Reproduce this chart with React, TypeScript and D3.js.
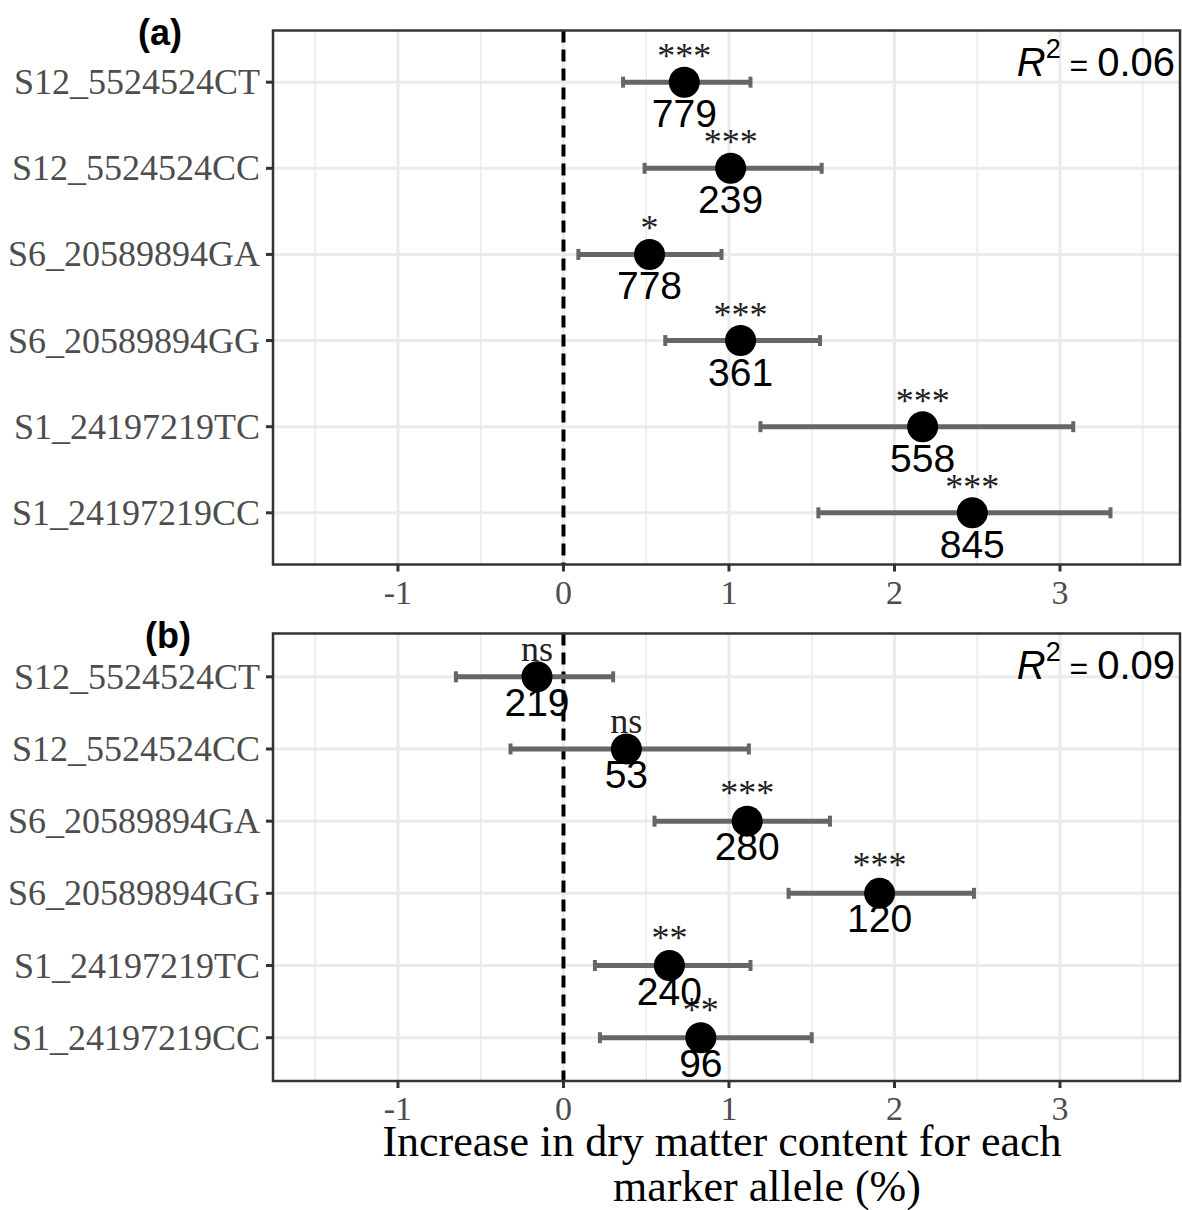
import React from "react";
import * as d3 from "d3";

// marker alleles, top to bottom
const markers = [
  "S12_5524524CT",
  "S12_5524524CC",
  "S6_20589894GA",
  "S6_20589894GG",
  "S1_24197219TC",
  "S1_24197219CC",
];

// panel (a)
const estA = [0.73, 1.01, 0.52, 1.07, 2.17, 2.47];
const lowA = [0.36, 0.49, 0.09, 0.615, 1.19, 1.54];
const highA = [1.13, 1.56, 0.955, 1.55, 3.08, 3.305];
const nA = [779, 239, 778, 361, 558, 845];
const sigA = ["***", "***", "*", "***", "***", "***"];

// panel (b)
const estB = [-0.16, 0.38, 1.11, 1.91, 0.64, 0.83];
const lowB = [-0.65, -0.32, 0.55, 1.36, 0.19, 0.22];
const highB = [0.3, 1.12, 1.61, 2.48, 1.13, 1.5];
const nB = [219, 53, 280, 120, 240, 96];
const sigB = ["ns", "ns", "***", "***", "**", "**"];

const xTicks = [-1, 0, 1, 2, 3];
const xMinor = [-1.5, -0.5, 0.5, 1.5, 2.5, 3.5];

const serif = "'Liberation Serif', 'Times New Roman', serif";
const sans = "'Liberation Sans', Arial, sans-serif";

const x = d3.scaleLinear().domain([-1.755, 3.725]).range([273, 1180]);

function Panel(props) {
  const { top, bottom, est, low, high, n, sig, tag, tagX, r2, sigOff, nOff } = props;
  const y = d3.scalePoint().domain(markers).range([top, bottom]).padding(0.6);

  return (
    <g>
      {/* grid */}
      {xMinor.map((t) => (
        <line key={"m" + t} x1={x(t)} x2={x(t)} y1={top} y2={bottom} stroke="#EBEBEB" strokeWidth={1.5} />
      ))}
      {xTicks.map((t) => (
        <line key={"M" + t} x1={x(t)} x2={x(t)} y1={top} y2={bottom} stroke="#EBEBEB" strokeWidth={3} />
      ))}
      {markers.map((m) => (
        <line key={m} x1={273} x2={1180} y1={y(m)} y2={y(m)} stroke="#EBEBEB" strokeWidth={3} />
      ))}

      {/* zero line */}
      <line x1={x(0)} x2={x(0)} y1={top} y2={bottom} stroke="#000" strokeWidth={4} strokeDasharray="12,7" />

      {/* error bars */}
      {markers.map((m, i) => (
        <g key={"e" + m} stroke="#666666">
          <line x1={x(low[i])} x2={x(high[i])} y1={y(m)} y2={y(m)} strokeWidth={5} />
          <line x1={x(low[i])} x2={x(low[i])} y1={y(m) - 5.5} y2={y(m) + 5.5} strokeWidth={4} />
          <line x1={x(high[i])} x2={x(high[i])} y1={y(m) - 5.5} y2={y(m) + 5.5} strokeWidth={4} />
        </g>
      ))}

      {/* points */}
      {markers.map((m, i) => (
        <circle key={"p" + m} cx={x(est[i])} cy={y(m)} r={15.5} fill="#000" />
      ))}

      {/* labels */}
      {markers.map((m, i) => (
        <text key={"s" + m} x={x(est[i])} y={y(m) + sigOff} textAnchor="middle"
          fontFamily={serif} fontSize={36} fill="#222">{sig[i]}</text>
      ))}
      {markers.map((m, i) => (
        <text key={"n" + m} x={x(est[i])} y={y(m) + nOff} textAnchor="middle"
          fontFamily={sans} fontSize={39} fill="#000">{n[i]}</text>
      ))}

      {/* R2 */}
      <text x={1175} y={top + 45} textAnchor="end" fontFamily={sans} fill="#000">
        <tspan fontStyle="italic" fontSize={40}>R</tspan>
        <tspan fontSize={27} dy={-18}>2</tspan>
        <tspan fontSize={32} dy={18}> = </tspan>
        <tspan fontSize={40}>{r2}</tspan>
      </text>

      {/* border */}
      <rect x={273} y={top} width={1180 - 273} height={bottom - top} fill="none" stroke="#333333" strokeWidth={2.5} />

      {/* y axis */}
      {markers.map((m) => (
        <g key={"y" + m}>
          <line x1={266} x2={273} y1={y(m)} y2={y(m)} stroke="#333333" strokeWidth={3} />
          <text x={260} y={y(m) + 12} textAnchor="end" fontFamily={serif} fontSize={36} fill="#4D4D4D">{m}</text>
        </g>
      ))}

      {/* x axis */}
      {xTicks.map((t) => (
        <g key={"x" + t}>
          <line x1={x(t)} x2={x(t)} y1={bottom} y2={bottom + 7} stroke="#333333" strokeWidth={3} />
          <text x={x(t)} y={bottom + 39} textAnchor="middle" fontFamily={serif} fontSize={34} fill="#4D4D4D">{t}</text>
        </g>
      ))}

      <text x={tagX} y={top + 14} textAnchor="middle" fontFamily={sans} fontWeight="bold" fontSize={36} fill="#000">{tag}</text>
    </g>
  );
}

export default function App() {
  return (
    <svg width={1182} height={1210} style={{ position: "absolute", left: 0, top: 0, background: "#fff" }}>
      <rect width={1182} height={1210} fill="#fff" />
      <Panel top={30.5} bottom={564.5} est={estA} low={lowA} high={highA} n={nA} sig={sigA}
        tag="(a)" tagX={160} r2="0.06" sigOff={-14} nOff={45} />
      <Panel top={633.5} bottom={1081} est={estB} low={lowB} high={highB} n={nB} sig={sigB}
        tag="(b)" tagX={168} r2="0.09" sigOff={-16} nOff={39} />
      <text x={722} y={1156} textAnchor="middle" fontFamily={serif} fontSize={44} fill="#000">
        Increase in dry matter content for each
      </text>
      <text x={767} y={1201} textAnchor="middle" fontFamily={serif} fontSize={44} fill="#000">
        marker allele (%)
      </text>
    </svg>
  );
}
